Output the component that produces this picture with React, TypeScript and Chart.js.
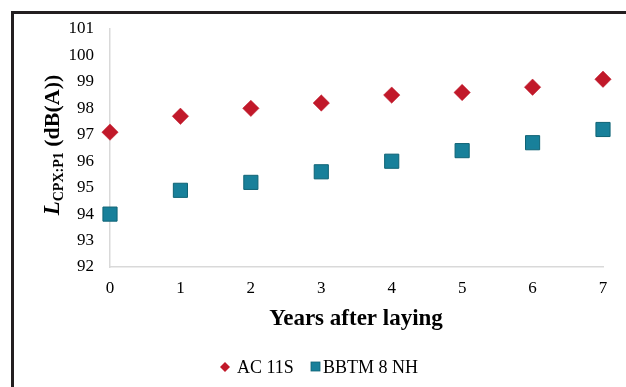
import React, { useEffect, useRef } from "react";
import { Chart, registerables } from "chart.js";
Chart.register(...registerables);

const years = [0, 1, 2, 3, 4, 5, 6, 7];
const ac11s = [97.1, 97.7, 98.0, 98.2, 98.5, 98.6, 98.8, 99.1];
const bbtm8nh = [94.0, 94.9, 95.2, 95.6, 96.0, 96.4, 96.7, 97.2];
const seriesNames = ["AC 11S", "BBTM 8 NH"];
const xTitle = "Years after laying";
const yTitleMain = "L";
const yTitleSub = "CPX:P1";
const yTitleRest = " (dB(A))";

const RED = "#c1192a";
const TEAL = "#18809a";
const TEAL_BORDER = "#0f6375";
const SERIF = "'Liberation Serif', 'Times New Roman', serif";

const titlesPlugin = {
  id: "customTitles",
  afterDraw(chart: any) {
    const ctx = chart.ctx as CanvasRenderingContext2D;
    ctx.save();
    ctx.fillStyle = "#000";
    // x title
    ctx.font = `bold 23px ${SERIF}`;
    ctx.textAlign = "center";
    ctx.textBaseline = "middle";
    ctx.fillText(xTitle, 356, 319);

    // y title rotated
    const mainFont = `italic bold 23px ${SERIF}`;
    const subFont = `bold 14px ${SERIF}`;
    const restFont = `bold 22px ${SERIF}`;
    ctx.font = mainFont;
    const w1 = ctx.measureText(yTitleMain).width;
    ctx.font = subFont;
    const w2 = ctx.measureText(yTitleSub).width;
    ctx.font = restFont;
    const w3 = ctx.measureText(yTitleRest).width;
    const total = w1 + w2 + w3;
    const cy = 145;
    ctx.translate(59, cy);
    ctx.rotate(-Math.PI / 2);
    ctx.textAlign = "left";
    ctx.textBaseline = "alphabetic";
    let x = -total / 2;
    ctx.font = mainFont;
    ctx.fillText(yTitleMain, x, 0);
    x += w1;
    ctx.font = subFont;
    ctx.fillText(yTitleSub, x, 4);
    x += w2;
    ctx.font = restFont;
    ctx.fillText(yTitleRest, x, 0);
    ctx.restore();

    // legend
    ctx.save();
    const ly = 367;
    ctx.fillStyle = RED;
    ctx.beginPath();
    ctx.moveTo(225, ly - 5);
    ctx.lineTo(230, ly);
    ctx.lineTo(225, ly + 5);
    ctx.lineTo(220, ly);
    ctx.closePath();
    ctx.fill();
    ctx.fillStyle = TEAL;
    ctx.fillRect(311, ly - 5, 9, 9);
    ctx.strokeStyle = TEAL_BORDER;
    ctx.lineWidth = 0.8;
    ctx.strokeRect(311, ly - 5, 9, 9);
    ctx.fillStyle = "#000";
    ctx.font = `18px ${SERIF}`;
    ctx.textAlign = "left";
    ctx.textBaseline = "middle";
    ctx.fillText(seriesNames[0], 237, ly + 1);
    ctx.fillText(seriesNames[1], 323, ly + 1);
    ctx.restore();
  },
};

export default function App() {
  const ref = useRef<HTMLCanvasElement>(null);
  useEffect(() => {
    document.body.style.margin = "0";
    const chart = new Chart(ref.current!, {
      type: "scatter",
      data: {
        datasets: [
          {
            label: seriesNames[0],
            data: years.map((y, i) => ({ x: y, y: ac11s[i] })),
            pointStyle: "rectRot",
            pointRadius: 8.2,
            backgroundColor: RED,
            borderColor: RED,
            borderWidth: 0.5,
            clip: false,
          },
          {
            label: seriesNames[1],
            data: years.map((y, i) => ({ x: y, y: bbtm8nh[i] })),
            pointStyle: "rect",
            pointRadius: 10,
            backgroundColor: TEAL,
            borderColor: TEAL_BORDER,
            borderWidth: 1,
            clip: false,
          },
        ],
      },
      options: {
        animation: false,
        responsive: false,
        layout: { padding: { left: 0, right: 23, top: 29, bottom: 0 } },
        plugins: { legend: { display: false }, tooltip: { enabled: false } },
        scales: {
          x: {
            type: "linear",
            min: 0,
            max: 7,
            afterFit: (s: any) => {
              s.height = 120;
            },
            ticks: {
              stepSize: 1,
              padding: 11,
              color: "#000",
              font: { family: SERIF, size: 17 },
            },
            grid: { display: false, drawTicks: false },
            border: { display: true, color: "#d9d9d9", width: 1.5 },
          },
          y: {
            min: 92,
            max: 101,
            afterFit: (s: any) => {
              s.width = 110;
            },
            ticks: {
              stepSize: 1,
              padding: 16,
              color: "#000",
              font: { family: SERIF, size: 17 },
            },
            grid: { display: false, drawTicks: false },
            border: { display: true, color: "#d9d9d9", width: 1.5 },
          },
        },
      },
      plugins: [titlesPlugin],
    });
    return () => chart.destroy();
  }, []);
  return (
    <div style={{ position: "relative", width: 626, height: 387, background: "#fff", overflow: "hidden" }}>
      <canvas ref={ref} width={626} height={387} style={{ position: "absolute", left: 0, top: 0 }} />
      <div
        style={{
          position: "absolute",
          left: 11,
          top: 11,
          width: 700,
          height: 500,
          borderLeft: "3px solid #231f20",
          borderTop: "3px solid #231f20",
          pointerEvents: "none",
        }}
      />
    </div>
  );
}
